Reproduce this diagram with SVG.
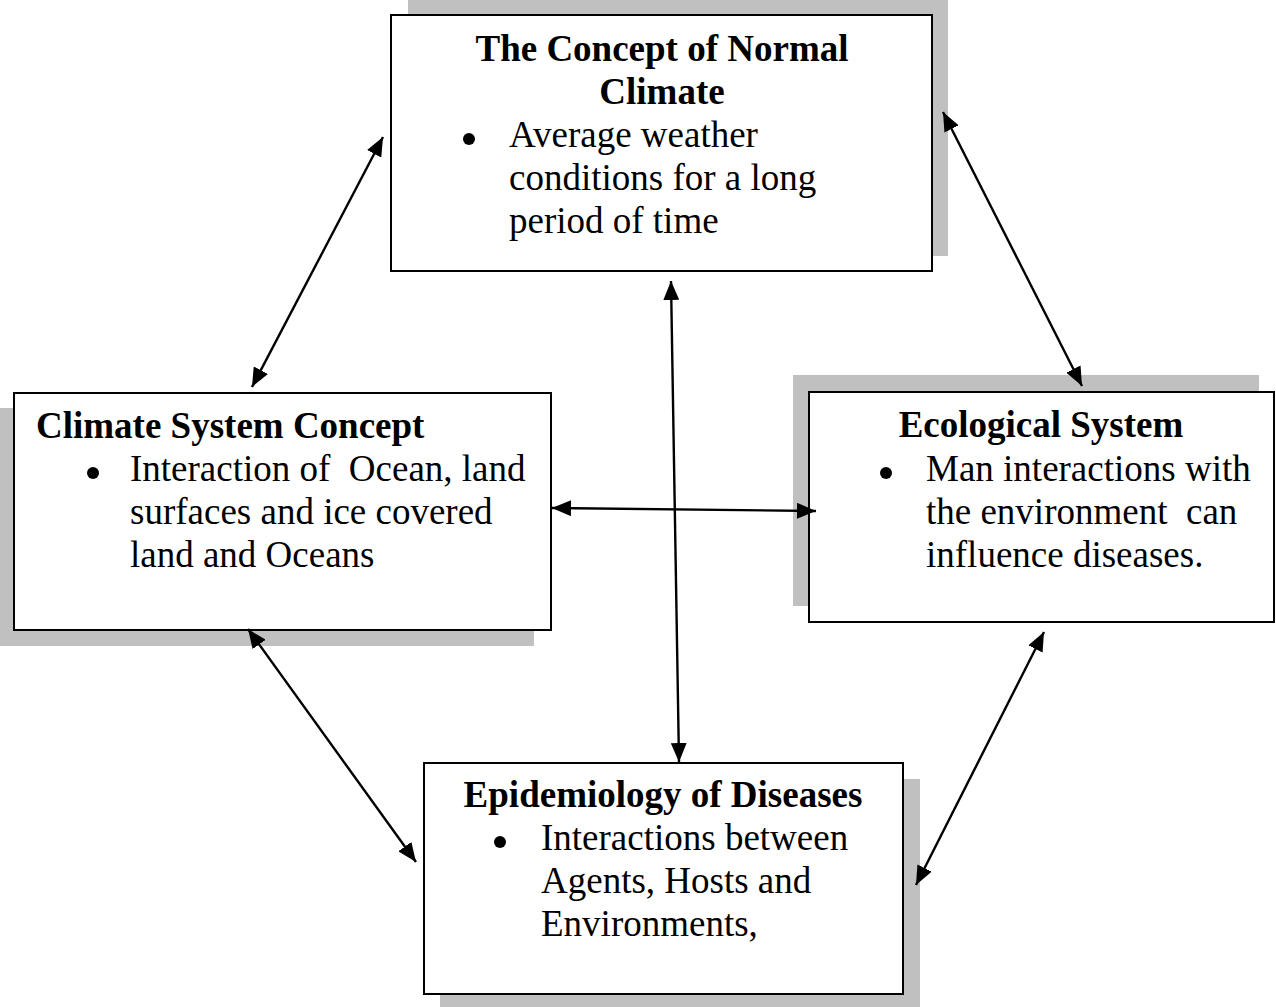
<svg xmlns="http://www.w3.org/2000/svg" width="1276" height="1007" viewBox="0 0 1276 1007">
<style>
.shadow{fill:#c0c0c0;stroke:none}
.box{fill:#fff;stroke:#000;stroke-width:2}
.t{font-family:"Liberation Serif","Times New Roman",serif;font-size:37px;fill:#000;white-space:pre}
.b{font-weight:bold}
.c{text-anchor:middle}
.dot{fill:#000}
.conn{stroke:#000;stroke-width:2.4;fill:none;marker-start:url(#ah);marker-end:url(#ah)}
</style>
<defs>
<marker id="ah" markerUnits="userSpaceOnUse" markerWidth="20" markerHeight="16" refX="19" refY="8" orient="auto-start-reverse">
<path d="M0,0 L19,8 L0,16 z" fill="#000"/>
</marker>
</defs>
<rect width="1276" height="1007" fill="#fff"/>

<g id="node-normal-climate">
<rect class="shadow" x="408" y="0" width="540" height="256"/>
<rect class="box" x="391" y="15" width="541" height="256"/>
<text class="t b c" x="662" y="61">The Concept of Normal</text>
<text class="t b c" x="662" y="104">Climate</text>
<circle class="dot" cx="469" cy="139" r="6"/>
<text class="t" x="509" y="147">Average weather</text>
<text class="t" x="509" y="190">conditions for a long</text>
<text class="t" x="509" y="233">period of time</text>
</g>

<g id="node-climate-system">
<rect class="shadow" x="0" y="408" width="534" height="238"/>
<rect class="box" x="14" y="393" width="537" height="237"/>
<text class="t b" x="36" y="438">Climate System Concept</text>
<circle class="dot" cx="93" cy="473" r="6"/>
<text class="t" x="130" y="481">Interaction of  Ocean, land</text>
<text class="t" x="130" y="524">surfaces and ice covered</text>
<text class="t" x="130" y="567">land and Oceans</text>
</g>

<g id="node-ecological">
<rect class="shadow" x="793" y="375" width="466" height="231"/>
<rect class="box" x="809" y="392" width="465" height="230"/>
<text class="t b c" x="1041" y="437">Ecological System</text>
<circle class="dot" cx="886" cy="473" r="6"/>
<text class="t" x="926" y="481">Man interactions with</text>
<text class="t" x="926" y="524">the environment  can</text>
<text class="t" x="926" y="567">influence diseases.</text>
</g>

<g id="node-epidemiology">
<rect class="shadow" x="440" y="779" width="480" height="228"/>
<rect class="box" x="424" y="763" width="479" height="231"/>
<text class="t b c" x="663" y="807">Epidemiology of Diseases</text>
<circle class="dot" cx="500" cy="842" r="6"/>
<text class="t" x="541" y="850">Interactions between</text>
<text class="t" x="541" y="893">Agents, Hosts and</text>
<text class="t" x="541" y="936">Environments,</text>
</g>

<g id="connectors">
<line class="conn" x1="383" y1="137" x2="252" y2="387"/>
<line class="conn" x1="943" y1="112" x2="1082" y2="386"/>
<line class="conn" x1="671" y1="281" x2="679" y2="762"/>
<line class="conn" x1="552" y1="508" x2="816" y2="511"/>
<line class="conn" x1="248" y1="629" x2="416" y2="862"/>
<line class="conn" x1="1044" y1="632" x2="916" y2="885"/>
</g>
</svg>
